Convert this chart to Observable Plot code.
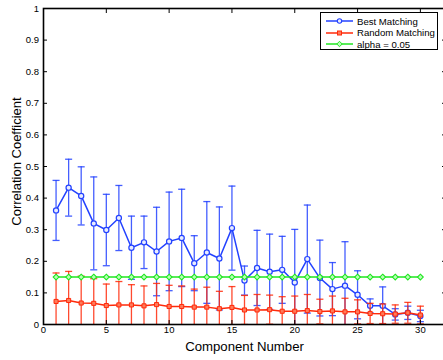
<!DOCTYPE html>
<html><head><meta charset="utf-8">
<script src="https://cdn.jsdelivr.net/npm/d3@7"></script>
<script src="https://cdn.jsdelivr.net/npm/@observablehq/plot@0.6"></script>
<style>
body{margin:0;background:#fff;}
#wrap{position:relative;width:443px;height:360px;overflow:hidden;font-family:"Liberation Sans",Arial,Helvetica,sans-serif;}
#legend{position:absolute;left:320px;top:12px;width:116px;height:36px;border:1.5px solid #000;background:#fff;font-size:9.6px;color:#000;}
#legend .row{position:absolute;left:0;height:12px;display:flex;align-items:center;}
#legend svg{display:block;margin-left:5px;margin-right:4px;}
</style>
</head><body>
<div id="wrap"><div id="legend"></div></div>
<script>
// ---- data ----
const components = [1,2,3,4,5,6,7,8,9,10,11,12,13,14,15,16,17,18,19,20,21,22,23,24,25,26,27,28,29,30];
const bestMean = [0.361,0.433,0.407,0.320,0.299,0.337,0.243,0.260,0.231,0.263,0.274,0.194,0.228,0.209,0.305,0.139,0.179,0.167,0.173,0.133,0.207,0.147,0.112,0.123,0.094,0.059,0.059,0.032,0.037,0.027];
const bestErr  = [0.095,0.090,0.092,0.147,0.113,0.103,0.100,0.083,0.140,0.156,0.154,0.087,0.161,0.163,0.133,0.046,0.119,0.119,0.106,0.168,0.171,0.120,0.084,0.139,0.076,0.022,0.060,0.018,0.021,0.018];
const randMean = [0.073,0.076,0.068,0.067,0.060,0.062,0.062,0.059,0.063,0.057,0.057,0.055,0.055,0.050,0.054,0.046,0.046,0.047,0.042,0.042,0.044,0.041,0.043,0.040,0.040,0.035,0.034,0.033,0.037,0.030];
const randErr  = [0.090,0.092,0.085,0.078,0.068,0.074,0.064,0.063,0.067,0.067,0.065,0.057,0.063,0.055,0.066,0.046,0.049,0.046,0.046,0.048,0.051,0.039,0.047,0.043,0.038,0.032,0.031,0.029,0.033,0.028];
const alphaLevel = 0.15;
const seriesNames = ["Best Matching","Random Matching","alpha = 0.05"];
const xTicks = [0,5,10,15,20,25,30];
const yTicks = [0,0.1,0.2,0.3,0.4,0.5,0.6,0.7,0.8,0.9,1];
const yTickLabels = ["0","0.1","0.2","0.3","0.4","0.5","0.6","0.7","0.8","0.9","1"];
const xTitle = "Component Number";
const yTitle = "Correlation Coefficient";

const BLUE = "#2342ff", RED = "#ff2a0a", GREEN = "#20e620";

const best = components.map((c,i)=>({x:c, y:bestMean[i], lo:bestMean[i]-bestErr[i], hi:bestMean[i]+bestErr[i]}));
const rand = components.map((c,i)=>({x:c, y:randMean[i], lo:randMean[i]-randErr[i], hi:randMean[i]+randErr[i]}));
const alpha = components.map(c=>({x:c, y:alphaLevel}));

const CAP = 0.28;
function errMarks(data, color){
  return [
    Plot.ruleX(data, {x:"x", y1:"lo", y2:"hi", stroke:color, strokeWidth:1.3, strokeOpacity:0.85, clip:true}),
    Plot.link(data, {x1:d=>d.x-CAP, x2:d=>d.x+CAP, y1:"hi", y2:"hi", stroke:color, strokeWidth:1.3, strokeOpacity:0.85, clip:true}),
    Plot.link(data, {x1:d=>d.x-CAP, x2:d=>d.x+CAP, y1:"lo", y2:"lo", stroke:color, strokeWidth:1.3, strokeOpacity:0.85, clip:true})
  ];
}

const chart = Plot.plot({
  width: 443, height: 360,
  marginLeft: 43, marginRight: -2, marginTop: 8, marginBottom: 36,
  style: {fontFamily: '"Liberation Sans", Arial, Helvetica, sans-serif', background: "#fff"},
  x: {domain:[0,32]},
  y: {domain:[0,1]},
  marks: [
    // blue series
    ...errMarks(best, BLUE),
    Plot.line(best, {x:"x", y:"y", stroke:BLUE, strokeWidth:1.5}),
    Plot.dot(best, {x:"x", y:"y", r:2.6, stroke:BLUE, fill:"#e8ecff", strokeWidth:1.2}),
    // red series
    ...errMarks(rand, RED),
    Plot.line(rand, {x:"x", y:"y", stroke:RED, strokeWidth:1.5}),
    Plot.dot(rand, {x:"x", y:"y", r:2.3, symbol:"square", stroke:RED, fill:"#ff7a5a", strokeWidth:1}),
    // alpha line
    Plot.line(alpha, {x:"x", y:"y", stroke:GREEN, strokeWidth:1.5}),
    Plot.dot(alpha, {x:"x", y:"y", r:2.6, symbol:"diamond2", stroke:GREEN, fill:"#b6ffb6", strokeWidth:1.1}),
    // frame
    Plot.frame({stroke:"#000", strokeWidth:1.6}),
    // inward ticks on all sides
    Plot.axisX(xTicks, {anchor:"bottom", tickSize:4, dy:-4, tickFormat:()=>"", label:null, stroke:"#000"}),
    Plot.axisX(xTicks, {anchor:"top", tickSize:4, dy:4, tickFormat:()=>"", label:null, stroke:"#000"}),
    Plot.axisY(yTicks, {anchor:"left", tickSize:4, dx:4, tickFormat:()=>"", label:null, stroke:"#000"}),
    Plot.axisY(yTicks, {anchor:"right", tickSize:4, dx:-4, tickFormat:()=>"", label:null, stroke:"#000"}),
    // tick labels
    Plot.axisX(xTicks, {anchor:"bottom", tickSize:0, tickPadding:2, label:null, fontSize:9.5, tickFormat:d=>String(d)}),
    Plot.axisY(yTicks, {anchor:"left", tickSize:0, tickPadding:4.5, label:null, fontSize:9.5, tickFormat:(d)=>yTickLabels[yTicks.indexOf(d)]}),
    // titles
    Plot.text([xTitle], {frameAnchor:"bottom", lineAnchor:"middle", dy:22, fontSize:13.2, fill:"#000"}),
    Plot.text([yTitle], {frameAnchor:"left", textAnchor:"middle", dx:-27, dy:-5, rotate:-90, fontSize:13, fill:"#000"})
  ]
});
document.getElementById("wrap").prepend(chart);

// legend
const legend = document.getElementById("legend");
const legendDefs = [
  {name:seriesNames[0], color:BLUE, shape:"circle"},
  {name:seriesNames[1], color:RED, shape:"square"},
  {name:seriesNames[2], color:GREEN, shape:"diamond"}
];
legendDefs.forEach((d,i)=>{
  const row = document.createElement("div");
  row.className = "row";
  row.style.top = (2 + i*11.5) + "px";
  let marker = "";
  if (d.shape==="circle") marker = `<circle cx="13.5" cy="5" r="2.2" fill="#e8ecff" stroke="${d.color}" stroke-width="1.1"/>`;
  if (d.shape==="square") marker = `<rect x="11.5" y="3" width="4" height="4" fill="#ff7a5a" stroke="${d.color}" stroke-width="1"/>`;
  if (d.shape==="diamond") marker = `<path d="M13.5,2.3 L16.2,5 L13.5,7.7 L10.8,5 Z" fill="#b6ffb6" stroke="${d.color}" stroke-width="1"/>`;
  row.innerHTML = `<svg width="27" height="10"><line x1="0" y1="5" x2="27" y2="5" stroke="${d.color}" stroke-width="1.5"/>${marker}</svg><span>${d.name}</span>`;
  legend.appendChild(row);
});
</script>
</body></html>
